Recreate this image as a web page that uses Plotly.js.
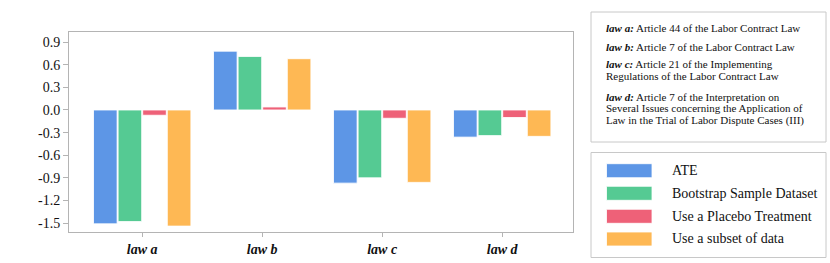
<!DOCTYPE html>
<html><head><meta charset="utf-8">
<script src="https://cdn.plot.ly/plotly-3.0.1.min.js"></script>
<style>html,body{margin:0;padding:0;background:#fff}#chart{width:830px;height:263px}</style>
</head><body><div id="chart"></div>
<script>
const categories = ["law a", "law b", "law c", "law d"];
const seriesNames = ["ATE", "Bootstrap Sample Dataset", "Use a Placebo Treatment", "Use a subset of data"];
const ate       = [-1.51, 0.78, -0.97, -0.36];
const bootstrap = [-1.48, 0.71, -0.90, -0.34];
const placebo   = [-0.07, 0.04, -0.11, -0.10];
const subset    = [-1.54, 0.68, -0.96, -0.35];
const colors = ["#5d96e6", "#55ca93", "#ee6178", "#feb854"];
const yTickVals = [-1.5, -1.2, -0.9, -0.6, -0.3, 0.0, 0.3, 0.6, 0.9];
const yTickText = ["-1.5", "-1.2", "-0.9", "-0.6", "-0.3", "0.0", "0.3", "0.6", "0.9"];
const lawLabels = ["law a:", "law b:", "law c:", "law d:"];
const lawDescriptions = [
  ["Article 44 of the Labor Contract Law"],
  ["Article 7 of the Labor Contract Law"],
  ["Article 21 of the Implementing", "Regulations of the Labor Contract Law"],
  ["Article 7 of the Interpretation on", "Several Issues concerning the Application of", "Law in the Trial of Labor Dispute Cases (III)"]
];

const serif = "Liberation Serif";
const allSeries = [ate, bootstrap, placebo, subset];
const traces = allSeries.map((vals, i) => ({
  type: "bar", x: categories, y: vals, name: seriesNames[i],
  marker: {color: colors[i], line: {color: "rgba(255,255,255,0.85)", width: 1}},
  hoverinfo: "none", showlegend: false
}));

// pixel->paper helpers
const L = 69, R = 573, T = 32, B = 232;
const px = p => (p - L) / (R - L);
const py = p => (B - p) / (B - T);

const shapes = [];
const annotations = [];
// description box
shapes.push({type: "rect", xref: "paper", yref: "paper", x0: px(591), x1: px(826), y0: py(142), y1: py(12),
  line: {color: "#c8c8c8", width: 1}, fillcolor: "rgba(0,0,0,0)"});
const paraTops = [28.3, 46.7, 64.3, 96.7];
const linePitch = 11.8;
lawLabels.forEach((lab, i) => {
  lawDescriptions[i].forEach((ln, j) => {
    annotations.push({xref: "paper", yref: "paper", x: px(604), y: py(paraTops[i] + j * linePitch),
      xanchor: "left", yanchor: "middle", align: "left", showarrow: false,
      text: (j === 0 ? "<b><i>" + lab + "</i></b> " : "") + ln,
      font: {family: serif, size: 11, color: "#111"}});
  });
});
// legend box
shapes.push({type: "rect", xref: "paper", yref: "paper", x0: px(591), x1: px(826), y0: py(257.5), y1: py(152.5),
  line: {color: "#c8c8c8", width: 1}, fillcolor: "rgba(0,0,0,0)"});
const legRows = [170.7, 193.3, 216.3, 239];
seriesNames.forEach((nm, i) => {
  shapes.push({type: "rect", xref: "paper", yref: "paper", x0: px(606.5), x1: px(652), y0: py(legRows[i] + 7), y1: py(legRows[i] - 7),
    line: {color: "rgba(255,255,255,0.8)", width: 1}, fillcolor: colors[i]});
  annotations.push({xref: "paper", yref: "paper", x: px(670), y: py(legRows[i]), xanchor: "left", yanchor: "middle",
    showarrow: false, text: nm, font: {family: serif, size: 14, color: "#111"}});
});

const layout = {
  width: 830, height: 263,
  margin: {l: L, r: 830 - R, t: T, b: 263 - B},
  paper_bgcolor: "#fff", plot_bgcolor: "#fff",
  barmode: "group", bargap: 0.18, bargroupgap: 0.04,
  font: {family: serif, size: 14, color: "#111"},
  xaxis: {range: [-0.61, 3.59], showgrid: false, zeroline: false, showline: true, mirror: true,
    linecolor: "#b4b4b4", linewidth: 1, ticks: "outside", ticklen: 4, tickcolor: "#b4b4b4",
    tickfont: {family: serif, size: 14, color: "#111"},
    tickvals: categories, ticktext: categories.map(c => "<b><i>" + c + "</i></b>")},
  yaxis: {range: [-1.618, 1.034], showgrid: false, zeroline: false, showline: true, mirror: true,
    linecolor: "#b4b4b4", linewidth: 1, ticks: "outside", ticklen: 5, tickcolor: "#b4b4b4",
    tickvals: yTickVals, ticktext: yTickText, tickfont: {family: serif, size: 14, color: "#111"}},
  shapes: shapes, annotations: annotations, showlegend: false
};
Plotly.newPlot("chart", traces, layout, {displayModeBar: false, staticPlot: true});
</script></body></html>
